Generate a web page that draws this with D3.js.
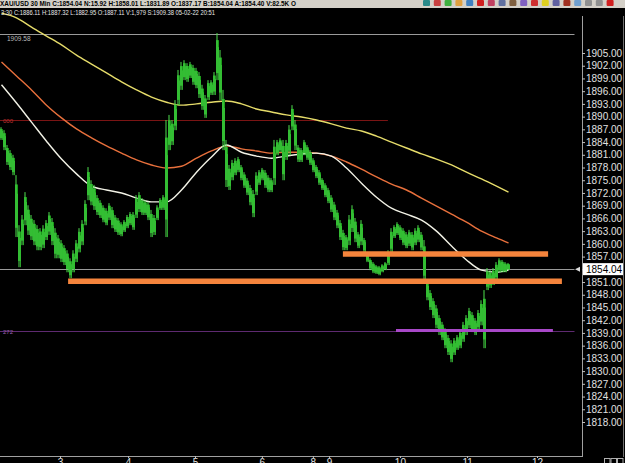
<!DOCTYPE html>
<html><head><meta charset="utf-8">
<script src="https://cdn.jsdelivr.net/npm/d3@7"></script>
<style>html,body{margin:0;padding:0;background:#000;overflow:hidden}</style>
</head><body>
<svg id="c" width="625" height="463"></svg>
<script>
// ---- data ----
const highs = [
1887.5,1886.8,1883.3,1882.1,1881,1876.2,1864.4,1866.8,1872.2,1869.1,
1866.8,1865.6,1864.4,1863.7,1864.4,1865.6,1867.5,1866.1,1863.7,1862.1,
1860.9,1859.7,1858.5,1856.6,1858.5,1860.9,1863.7,1865.6,1870.3,1878.1,
1875,1873.9,1871.5,1870.3,1869.1,1868.4,1869.6,1868.7,1866.8,1866.1,
1865.1,1865.6,1866.8,1867.5,1867.5,1871.5,1872.2,1870.8,1870.3,1869.9,
1868,1866.8,1869.1,1870.8,1871.5,1889.2,1890.4,1889.2,1893.9,1901,
1902.9,1903.3,1902.6,1902.9,1902.2,1901.5,1900.5,1897.5,1895.1,1898.6,
1898.6,1900.5,1909.7,1905.7,1896.3,1884.5,1878.6,1879.8,1880.2,1880.5,
1878.6,1876.9,1875.5,1873.9,1872.7,1876.9,1877.4,1877.9,1877.4,1876.2,
1875.5,1884.5,1884.5,1884.9,1884.5,1884.5,1888,1892.7,1889.2,1883.3,
1882.6,1884.5,1883.3,1882.1,1880.2,1878.6,1877.4,1875.5,1874.3,1873.2,
1871.5,1869.9,1868,1865.6,1863.3,1862.1,1866.8,1869.1,1866.1,1862.8,
1865.6,1861.4,1858,1856.6,1855.7,1855,1854.8,1855.2,1855.7,1858.5,
1863.7,1864.4,1865.1,1864.4,1863.7,1862.8,1863.3,1862.8,1863.7,1864.4,
1862.8,1860.9,1851.5,1849.1,1847.2,1845.6,1843.2,1841.6,1840.1,1838.5,
1837.3,1837.8,1838.5,1839.7,1841.6,1843.2,1844.9,1843.9,1842.5,1844.4,
1846.7,1849.1,1854.3,1853.8,1854.3,1855.7,1856.6,1856.2,1855.7,1855.5];
const lows = [
1884.5,1882.1,1878.6,1877.4,1876.2,1861.6,1854.5,1859.7,1864.4,1862.1,
1860.9,1859.7,1858.5,1858.5,1859,1860.9,1862.1,1859.7,1856.6,1856.6,
1855.7,1855,1853.3,1851.9,1853.3,1855.7,1858,1859.7,1864.4,1870.3,
1869.1,1868,1866.8,1866.1,1865.1,1864.4,1865.6,1863.7,1862.8,1862.1,
1861.8,1862.8,1863.7,1864.4,1863.3,1866.1,1867.5,1866.8,1866.8,1865.6,
1861.6,1862.1,1865.6,1868,1868,1861.6,1882.1,1883.3,1886.8,1892.7,
1896.3,1898.6,1898.2,1899.1,1897.5,1896.7,1894.4,1891.6,1889.7,1893.9,
1895.1,1895.1,1898.6,1893.9,1882.1,1873.4,1872.7,1875,1876.2,1876.9,
1875,1873.2,1871.5,1869.1,1866.3,1871.5,1873.9,1875,1873.2,1872.2,
1872.2,1873.9,1880.9,1881.6,1875,1879.8,1880.9,1886.8,1882.1,1879.3,
1879.3,1880.9,1879.8,1878.6,1876.9,1875.5,1873.9,1872.7,1871,1869.6,
1867.5,1865.6,1863.7,1860.9,1858.5,1858.5,1859.7,1862.8,1860.4,1859,
1859.7,1858,1855.7,1853.8,1853.1,1852.9,1852.6,1853.3,1853.8,1855,
1858,1861.4,1862.1,1860.9,1859.7,1859,1859.5,1858.5,1859.7,1860.4,
1858.5,1851,1846.7,1844.4,1842.5,1840.1,1838.5,1837.3,1835.4,1833.8,
1832.1,1833.8,1835,1835.4,1836.9,1838.5,1840.1,1839.2,1838.5,1839.7,
1840.8,1835.4,1849.1,1849.6,1850.3,1851.5,1853.3,1853.3,1853.3,1853.8];
const maSlow = [1914.4,1913.3,1911.1,1909,1906.9,1904.5,1902.4,1900.3,1898.2,1896.3,1894.6,1893.4,1892.7,1893,1893.4,1893.7,1893,1891.8,1891.1,1890.4,1889.9,1889.2,1888.3,1887.3,1886.6,1885.4,1884,1882.6,1881.2,1880,1878.6,1876.9,1875.3,1873.6,1872.2];
const maMid = [1902.9,1899.6,1896.3,1892.7,1889.7,1887.1,1885,1883.1,1881.4,1879.8,1878.6,1877.9,1878.3,1880.2,1881.9,1883.1,1882.4,1881.9,1881.4,1881.6,1881.6,1881.4,1880.7,1879.3,1877.6,1875.8,1874.1,1872.7,1870.8,1868.9,1867,1865.1,1863,1861.4,1860.2];
const maFast = [1897.5,1893.2,1888.7,1884.2,1880,1876.5,1873.6,1872.7,1872,1870.8,1869.9,1869.9,1872.7,1876.9,1880.5,1883.3,1881.6,1880.7,1880.2,1880.7,1881.2,1881.4,1880.7,1877.9,1874.3,1871,1868.4,1867,1865.6,1863,1859.5,1856.2,1853.8,1853.3,1853.8];
const priceTicks = [1818,1821,1824,1827,1830,1833,1836,1839,1842,1845,1848,1851,1854,1857,1860,1863,1866,1869,1872,1875,1878,1881,1884,1887,1890,1893,1896,1899,1902,1905];
const dayLabels = ["3","4","5","6","8","9","10","11","12"];
const dayPos = [19.5,42.2,64.5,86.8,103.8,109.2,132.8,155.2,178.5];
const lastPrice = 1854.04;
const levelValues = [1909.58, 1854.04, 1889.2, 1839.4, 1857.6, 1851.2, 1839.6];
const levelFrom   = [-0.5, -0.5, -0.5, -0.5, 113.8, 22.2, 131.5];
const levelTo     = [191.0, 191.0, 128.8, 191.0, 182.2, 186.8, 183.8];
const levelKind   = ["gray","gray","red","purple","orange","orange","violet"];
const levelText   = ["1909.58", "", "000", "272", "", "", ""];
const headerText = "XAU/USD 30 Min C:1854.04 N:15.92 H:1858.01 L:1831.89 O:1837.17 B:1854.04 A:1854.40 V:82.5K O";
const infoText = "3:30 C:1886.11 H:1887.32 L:1882.95 O:1887.11 V:1,979 S:1909.38 05-02-22 20:51";
const iconColors = ["#2a8a8a","#c84040","#40b040","#e0a040","#4080c0","#d02020","#c04060","#6070a0","#806040","#8060c0","#d03030","#e0d020","#6060a0","#a03020","#70a0d0","#909090","#909090","#d02020"];

// ---- drawing ----
const svg = d3.select("#c");
svg.append("rect").attr("width",625).attr("height",463).attr("fill","#000");

const x = d3.scaleLinear().domain([-0.5, 191.5]).range([0, 576]);
const y = d3.scaleLinear().domain([1818, 1905]).range([422, 53]);

const defs = svg.append("defs");
defs.append("clipPath").attr("id","plot").append("rect").attr("x",0).attr("y",8).attr("width",581).attr("height",449);
const g = svg.append("g").attr("clip-path","url(#plot)");

const styleMap = {
  gray:{c:"#9a9a9a",w:1}, red:{c:"#7a1414",w:1}, purple:{c:"#5e2a70",w:1},
  orange:{c:"#f5843c",w:5.5}, violet:{c:"#a848c8",w:3}
};
const levels = levelValues.map((v,i)=>({v, a:levelFrom[i], b:levelTo[i], k:levelKind[i], t:levelText[i]}));

levels.filter(d=>d.k==="gray"||d.k==="red"||d.k==="purple").forEach(d=>{
  g.append("line").attr("x1",x(d.a)).attr("x2",x(d.b)).attr("y1",Math.round(y(d.v))+0.5).attr("y2",Math.round(y(d.v))+0.5)
   .attr("stroke",styleMap[d.k].c).attr("stroke-width",styleMap[d.k].w);
});
levels.filter(d=>d.t).forEach(d=>{
  const isTop = d.k==="gray";
  g.append("text").attr("x", isTop?7:3).attr("y", isTop? y(d.v)+7 : y(d.v)+2.5)
   .attr("font-family","Liberation Sans, Arial, sans-serif").attr("font-size", isTop?6.5:6)
   .attr("fill", d.k==="gray"?"#bbbbbb": d.k==="red"?"#c03030":"#9a60b0").text(d.t);
});

// moving averages
const maIdx = k => Math.min(5*k, highs.length-1);
const maLine = d3.line().x((d,k)=>x(maIdx(k))).y(d=>y(d)).curve(d3.curveMonotoneX);
g.append("path").attr("d",maLine(maSlow)).attr("fill","none").attr("stroke","#e6dc6a").attr("stroke-width",1.4);
g.append("path").attr("d",maLine(maMid)).attr("fill","none").attr("stroke","#e8703c").attr("stroke-width",1.4);
g.append("path").attr("d",maLine(maFast)).attr("fill","none").attr("stroke","#f2f2e6").attr("stroke-width",1.4);

// price bars: dark wide body + bright thin wick-like line
const bars = highs.map((h,i)=>({i,h,l:lows[i]}));
g.selectAll("rect.bar").data(bars).enter().append("rect").attr("class","bar")
  .attr("x",d=>x(d.i)-1.5).attr("width",3)
  .attr("y",d=>y(d.h)+(y(d.l)-y(d.h))*0.15).attr("height",d=>Math.max(1,(y(d.l)-y(d.h))*0.7))
  .attr("fill","#1a9a1a");
g.selectAll("line.wick").data(bars).enter().append("line").attr("class","wick")
  .attr("x1",d=>x(d.i)-0.5).attr("x2",d=>x(d.i)-0.5)
  .attr("y1",d=>y(d.h)).attr("y2",d=>y(d.l))
  .attr("stroke","#4fe04f").attr("stroke-width",1);
g.selectAll("line.wick2").data(bars).enter().append("line").attr("class","wick2")
  .attr("x1",d=>x(d.i)+1).attr("x2",d=>x(d.i)+1)
  .attr("y1",d=>y(d.h)+(y(d.l)-y(d.h))*0.3).attr("y2",d=>y(d.l))
  .attr("stroke","#37c837").attr("stroke-width",0.8);

levels.filter(d=>d.k==="orange"||d.k==="violet").forEach(d=>{
  g.append("line").attr("x1",x(d.a)).attr("x2",x(d.b)).attr("y1",y(d.v)).attr("y2",y(d.v))
   .attr("stroke",styleMap[d.k].c).attr("stroke-width",styleMap[d.k].w);
});

// right axis
svg.append("line").attr("x1",582.5).attr("x2",582.5).attr("y1",16).attr("y2",457).attr("stroke","#a0a0a0");
svg.append("line").attr("x1",623.5).attr("x2",623.5).attr("y1",16).attr("y2",457).attr("stroke","#707070");
const ax = svg.append("g").attr("transform","translate(582,0)");
const axis = d3.axisRight(y).tickValues(priceTicks).tickFormat(d3.format(".2f")).tickSize(3).tickPadding(1);
ax.call(axis);
ax.select(".domain").remove();
ax.selectAll(".tick line").attr("stroke","#c0c0c0");
ax.selectAll(".tick text").attr("fill","#e0e0e0").attr("font-family","Liberation Sans, Arial, sans-serif").attr("font-size",10);

const ly = y(lastPrice);
svg.append("rect").attr("x",583).attr("y",ly-6).attr("width",40).attr("height",12).attr("fill","#ffffff");
svg.append("text").attr("x",586).attr("y",ly+4).attr("font-family","Liberation Sans, Arial, sans-serif").attr("font-size",10).attr("fill","#000").text(d3.format(".2f")(lastPrice));
svg.append("path").attr("d",`M${575},${ly} l5,-2.5 l0,5 z`).attr("fill","#dddddd");

// bottom axis
svg.append("line").attr("x1",0).attr("x2",582).attr("y1",456.5).attr("y2",456.5).attr("stroke","#a0a0a0");
const bx = svg.append("g").attr("transform","translate(0,456)");
const bAxis = d3.axisBottom(x).tickValues(dayPos).tickFormat((d,i)=>dayLabels[i]).tickSize(2).tickPadding(1);
bx.call(bAxis);
bx.select(".domain").remove();
bx.selectAll(".tick line").attr("stroke","#c0c0c0");
bx.selectAll(".tick text").attr("fill","#e0e0e0").attr("font-family","Liberation Sans, Arial, sans-serif").attr("font-size",10);
[0,1,2].forEach(k=>{
  svg.append("rect").attr("x",604.5+k*6.5).attr("y",458.5).attr("width",5.5).attr("height",6).attr("fill","#000").attr("stroke","#b0b0b0");
});

// header
svg.append("rect").attr("x",0).attr("y",0).attr("width",625).attr("height",8).attr("fill","#d4d0c8");
svg.append("text").attr("x",0).attr("y",6).attr("font-family","Liberation Sans, Arial, sans-serif").attr("font-weight","bold")
  .attr("font-size",7.5).attr("fill","#000").attr("textLength",296).attr("lengthAdjust","spacingAndGlyphs").text(headerText);
iconColors.forEach((c,k)=>{
  svg.append("rect").attr("x",423+k*10.8).attr("y",0).attr("width",7).attr("height",6).attr("fill",c).attr("rx",1);
});
svg.append("text").attr("x",1).attr("y",15).attr("font-family","Liberation Sans, Arial, sans-serif")
  .attr("font-size",6.5).attr("fill","#e8e8e8").attr("textLength",214).attr("lengthAdjust","spacingAndGlyphs").text(infoText);
</script>
</body></html>
